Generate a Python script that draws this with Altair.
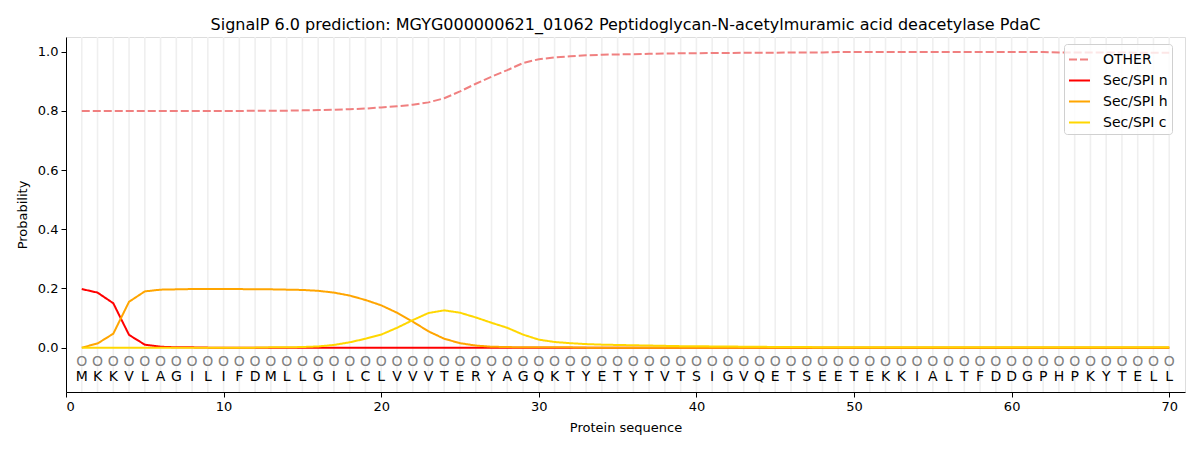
import altair as alt
import pandas as pd

positions = list(range(1, 71))
residues = list("MKKVLAGILIFDMLLGILCLVVVTERYAGQKTYETYTVTSIGVQETSEETEKKIALTFDDGPHPKYTELL")

other = [0.800, 0.800, 0.800, 0.800, 0.800, 0.800, 0.800, 0.800, 0.800, 0.800,
         0.800, 0.801, 0.801, 0.801, 0.802, 0.803, 0.804, 0.806, 0.808, 0.812,
         0.816, 0.821, 0.829, 0.843, 0.866, 0.892, 0.916, 0.938, 0.962, 0.975,
         0.981, 0.985, 0.988, 0.990, 0.991, 0.992, 0.993, 0.994, 0.995, 0.995,
         0.996, 0.996, 0.997, 0.997, 0.997, 0.998, 0.998, 0.998, 0.999, 0.999,
         0.999, 0.999, 0.999, 0.999, 0.999, 0.999, 0.999, 0.999, 0.999, 0.999,
         0.999, 0.999, 0.998, 0.998, 0.998, 0.998, 0.998, 0.997, 0.997, 0.997]
sec_n = [0.198, 0.186, 0.150, 0.043, 0.010, 0.003, 0.001, 0.001, 0.000, 0.000,
         0.000, 0.000, 0.000, 0.000, 0.000, 0.000, 0.000, 0.000, 0.000, 0.000,
         0.000, 0.000, 0.000, 0.000, 0.000, 0.000, 0.000, 0.000, 0.000, 0.000,
         0.000, 0.000, 0.000, 0.000, 0.000, 0.000, 0.000, 0.000, 0.000, 0.000,
         0.000, 0.000, 0.000, 0.000, 0.000, 0.000, 0.000, 0.000, 0.000, 0.000,
         0.000, 0.000, 0.000, 0.000, 0.000, 0.000, 0.000, 0.000, 0.000, 0.000,
         0.000, 0.000, 0.000, 0.000, 0.000, 0.000, 0.000, 0.000, 0.000, 0.000]
sec_h = [0.000, 0.014, 0.047, 0.155, 0.190, 0.196, 0.197, 0.198, 0.198, 0.198,
         0.198, 0.197, 0.197, 0.196, 0.195, 0.192, 0.186, 0.176, 0.161, 0.143,
         0.118, 0.088, 0.055, 0.030, 0.015, 0.007, 0.003, 0.002, 0.001, 0.001,
         0.001, 0.001, 0.000, 0.000, 0.000, 0.000, 0.000, 0.000, 0.000, 0.000,
         0.000, 0.000, 0.000, 0.000, 0.000, 0.000, 0.000, 0.000, 0.000, 0.000,
         0.000, 0.000, 0.000, 0.000, 0.000, 0.000, 0.000, 0.000, 0.000, 0.000,
         0.000, 0.000, 0.000, 0.000, 0.000, 0.000, 0.000, 0.000, 0.000, 0.000]
sec_c = [0.000, 0.000, 0.000, 0.000, 0.000, 0.000, 0.000, 0.000, 0.000, 0.000,
         0.000, 0.000, 0.001, 0.001, 0.002, 0.004, 0.009, 0.018, 0.030, 0.044,
         0.067, 0.093, 0.117, 0.126, 0.118, 0.102, 0.084, 0.067, 0.044, 0.027,
         0.019, 0.015, 0.012, 0.010, 0.009, 0.008, 0.007, 0.006, 0.005, 0.005,
         0.004, 0.004, 0.003, 0.003, 0.002, 0.002, 0.002, 0.001, 0.001, 0.001,
         0.001, 0.001, 0.001, 0.001, 0.001, 0.001, 0.001, 0.001, 0.001, 0.001,
         0.001, 0.001, 0.001, 0.001, 0.001, 0.001, 0.001, 0.001, 0.001, 0.001]

series_names = ["OTHER", "Sec/SPI n", "Sec/SPI h", "Sec/SPI c"]
series_colors = ["#F08080", "#FF0000", "#FFA500", "#FFD700"]
series_dash = [[8, 3], [1, 0], [1, 0], [1, 0]]

rows = []
for name, vals in zip(series_names, [other, sec_n, sec_h, sec_c]):
    for p, v in zip(positions, vals):
        rows.append({"pos": p, "prob": v, "series": name})
df = pd.DataFrame(rows)

seq_df = pd.DataFrame({"pos": positions, "res": residues,
                       "ry": [-0.10] * len(positions), "oy": [-0.05] * len(positions),
                       "o": ["O"] * len(positions)})

W, H = 1119, 355
FONT = "DejaVu Sans"

xscale = alt.Scale(domain=[0, 71], nice=False, zero=False)
yscale = alt.Scale(domain=[-0.15, 1.05], nice=False, zero=False)

xaxis = alt.Axis(values=[0, 10, 20, 30, 40, 50, 60, 70], format="d", title="Protein sequence",
                 grid=False, labelFontSize=13, titleFontSize=13, labelFont=FONT, titleFont=FONT,
                 tickColor="black", domainColor="black", labelColor="black", titleColor="black",
                 tickSize=5, labelPadding=3, titlePadding=8, titleFontWeight="normal")
yaxis = alt.Axis(values=[0, 0.2, 0.4, 0.6, 0.8, 1.0], format=".1f", title="Probability",
                 grid=False, labelFontSize=13, titleFontSize=13, labelFont=FONT, titleFont=FONT,
                 tickColor="black", domainColor="black", labelColor="black", titleColor="black",
                 tickSize=5, labelPadding=3, titlePadding=8, titleFontWeight="normal")

grid = alt.Chart(seq_df).mark_rule(color="#efefef", strokeWidth=1.6).encode(
    x=alt.X("pos:Q", scale=xscale, axis=xaxis)
)

circles = alt.Chart(seq_df).mark_text(font=FONT, fontSize=14, color="#808080").encode(
    x=alt.X("pos:Q", scale=xscale),
    y=alt.Y("oy:Q", scale=yscale, axis=yaxis),
    text="o:N",
)
letters = alt.Chart(seq_df).mark_text(font=FONT, fontSize=14, color="black").encode(
    x=alt.X("pos:Q", scale=xscale),
    y=alt.Y("ry:Q", scale=yscale),
    text="res:N",
)

color = alt.Color("series:N", scale=alt.Scale(domain=series_names, range=series_colors),
                  legend=alt.Legend(title=None, orient="none", legendX=998, legendY=7,
                                    symbolType="stroke", symbolSize=441, symbolStrokeWidth=2,
                                    labelFontSize=14, labelFont=FONT, labelColor="black",
                                    rowPadding=2, padding=4, strokeColor="#d0d0d0",
                                    fillColor="rgba(255,255,255,0.8)", cornerRadius=3,
                                    labelOffset=12))
dash = alt.StrokeDash("series:N", scale=alt.Scale(domain=series_names, range=series_dash),
                      legend=None)

layers = []
for name in series_names:
    layers.append(
        alt.Chart(df).transform_filter(alt.datum.series == name).mark_line(strokeWidth=2).encode(
            x=alt.X("pos:Q", scale=xscale),
            y=alt.Y("prob:Q", scale=yscale),
            color=color,
            strokeDash=dash,
        )
    )

chart = alt.layer(grid, circles, letters, *layers).properties(
    width=W, height=H,
    title=alt.TitleParams("SignalP 6.0 prediction: MGYG000000621_01062 Peptidoglycan-N-acetylmuramic acid deacetylase PdaC",
                          font=FONT, fontSize=16, fontWeight="normal", color="black", offset=3),
    autosize=alt.AutoSizeParams(type="none"),
    padding={"left": 58, "top": 29, "right": 7, "bottom": 50},
).resolve_legend(color="shared", strokeDash="shared").configure_view(
    stroke="black", strokeWidth=1
).configure(background="white")

chart.save("out.html", embed_options={"renderer": "svg", "actions": False})
